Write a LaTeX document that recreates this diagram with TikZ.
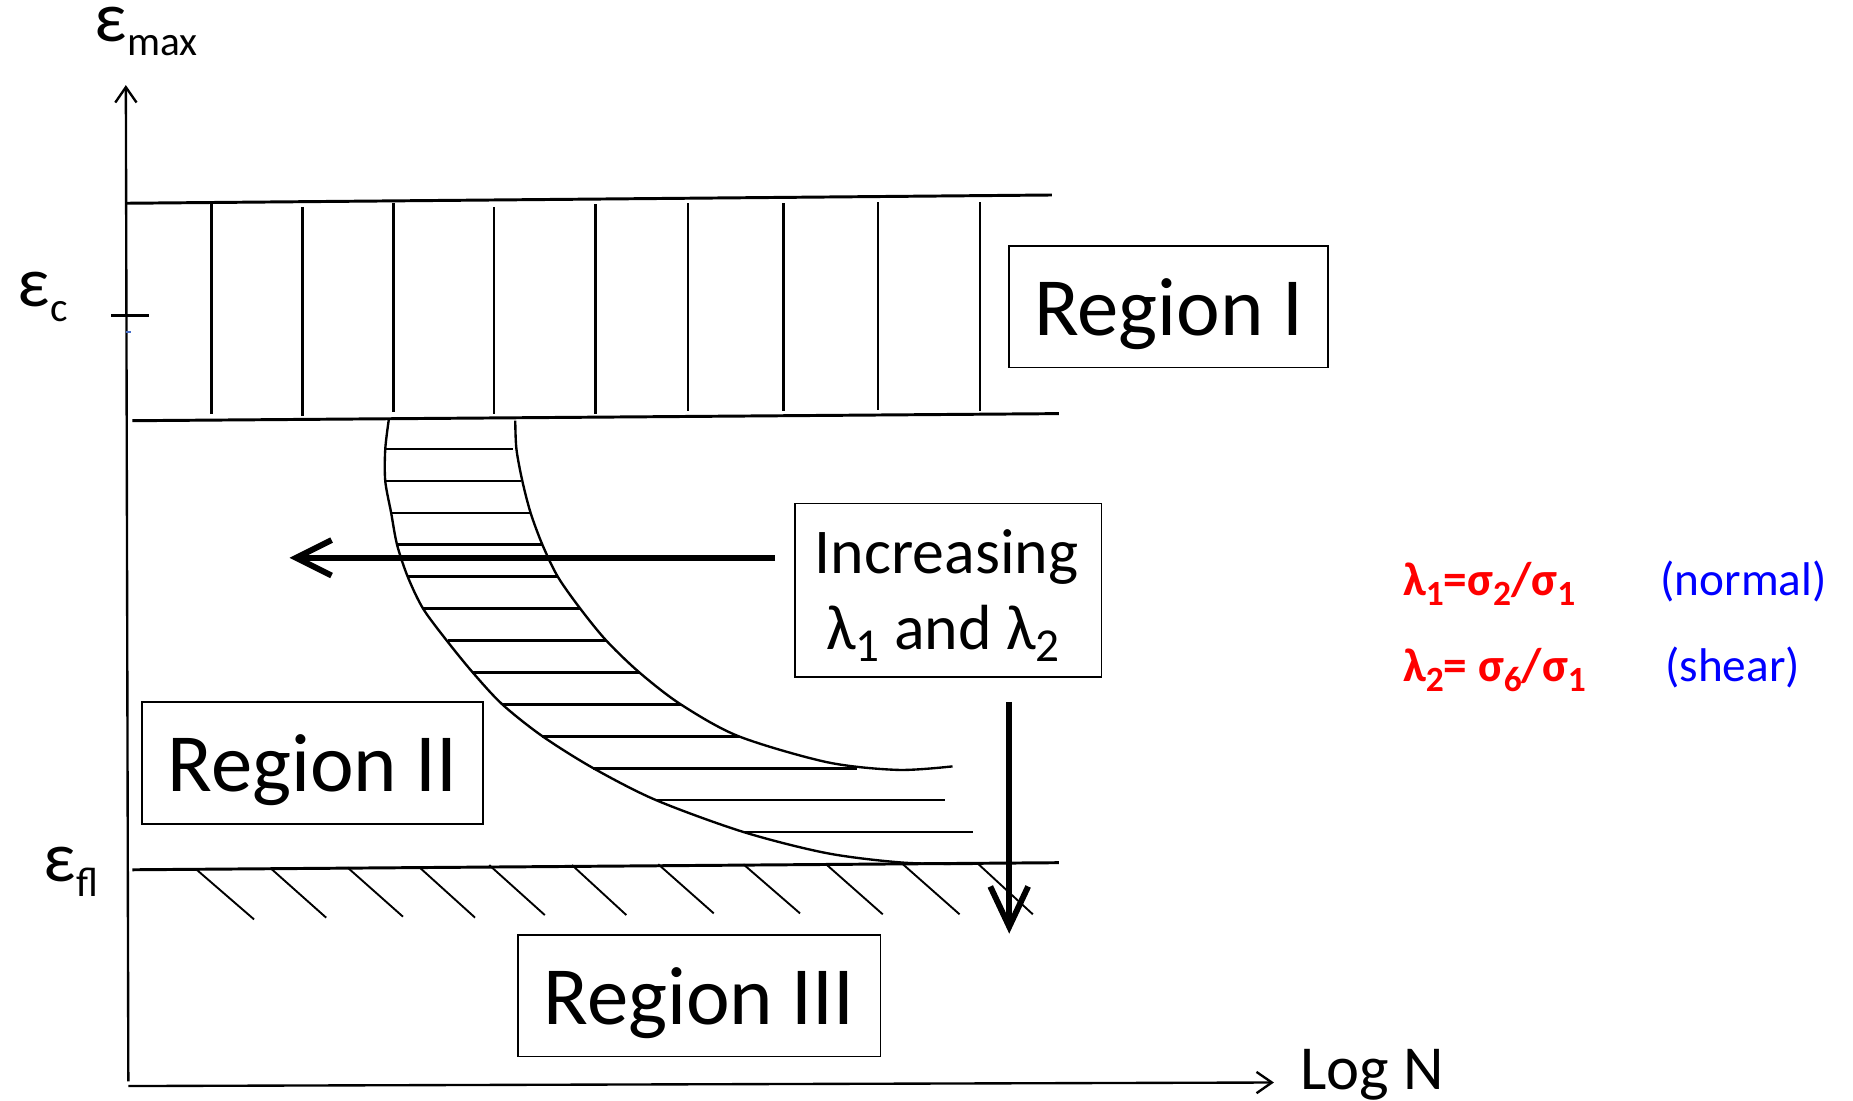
\documentclass[tikz,border=0pt]{standalone}
\usepackage{fontspec}
\setmainfont{Carlito}
\usetikzlibrary{arrows.meta}
\definecolor{lamred}{RGB}{255,0,0}
\definecolor{lamblue}{RGB}{0,0,255}
\definecolor{tinyblue}{RGB}{70,110,200}
\newcommand\lowsub[3]{\raisebox{-#1pt}{\fontsize{#2}{#2}\selectfont #3}}
\begin{document}
\begin{tikzpicture}[x=1pt,y=-1pt,
  axis/.style={line width=2pt, -{Straight Barb[length=13pt,width=18pt]}},
  band/.style={line width=2.5pt},
  vhatch/.style={line width=2pt},
  curve/.style={line width=2pt},
  hhatch/.style={line width=2.3pt},
  dhatch/.style={line width=1.6pt},
  regbox/.style={draw, line width=1.5pt, inner sep=0pt, minimum width=#1,
    font=\fontsize{70}{84}\selectfont, text height=76pt, text depth=27pt},
  bigarrow/.style={line width=5pt, -{Straight Barb[length=30pt,width=30pt]}},
  lbl/.style={inner sep=0pt, anchor=base west},
]
\useasboundingbox (0,0) rectangle (1568,931);

% axes
\coordinate (ybot) at (108.6,915);
\coordinate (ytop) at (106.5,72);
\coordinate (xbeg) at (108.6,919);
\coordinate (xend) at (1078,916);
\draw[axis] (ybot) -- (ytop);
\draw[axis] (xbeg) -- (xend);
\coordinate (tickl) at (94,267);
\coordinate (tickr) at (126,267);
\draw[line width=2pt] (tickl) -- (tickr);
\draw[tinyblue, line width=1.5pt] (107,281) -- (111,281);

% axis labels
\node[lbl, font=\fontsize{60}{70}\selectfont] (emax) at (80,35) {ε\lowsub{12}{35}{max}};
\node[lbl, font=\fontsize{60}{70}\selectfont] (ec) at (15,259) {ε\lowsub{13}{35}{c}};
\node[lbl, font=\fontsize{60}{70}\selectfont] (efl) at (37,746) {ε\lowsub{13}{35}{fl}};
\node[lbl, font=\fontsize{53}{64}\selectfont] (logn) at (1100,922) {Log N};

% Region I band
\draw[band] (107,172) -- (890,165);
\draw[band] (112,356) -- (896,350);
\foreach \x/\a/\b in {179/173/350, 256/175/352, 333/172/349, 418/175/350, 504/173/350, 582/172/348, 663/172/348, 743/171/347, 829/171/348}
  \draw[vhatch] (\x,\a) -- (\x,\b);

% Region II curved hatched band
\draw[curve] plot[smooth] coordinates {(329,355) (326,380) (326,407) (331,434) (336,461) (345,488) (358,515) (378,542) (400,569) (425,596) (459,623) (502,650) (555,677) (629,704) (700,722) (765,730) (823,731)};
\draw[curve] plot[smooth] coordinates {(436,356) (437,380) (442,407) (449,434) (459,461) (472,488) (491,515) (513,542) (541,569) (576,596) (625,623) (700,645) (760,651.5) (806,648.5)};
\foreach \y/\a/\b in {380/326/434, 407/326/441, 434/331/449, 461/336/459, 488/345/472, 515/358/491, 542/379/513, 569/399/541, 596/425/576, 623/459/625, 650/502/725, 677/555/800, 704/629/823}
  \draw[hhatch] (\a,\y) -- (\b,\y);

% fatigue limit line and hatch
\draw[band] (112,736) -- (896,730);
\foreach \xa/\ya/\xb/\yb in {166/735.6/215/778, 230/735.6/276/776.5, 294/734/341/775.7, 355/734/402/776.5, 414/732/461/774.3, 484/732/530/774.3, 557/731.3/604/772.9, 629/731.3/677/772.9, 699/731.3/747/773.7, 764/731.3/812/773.7, 828/731.3/874/773.7}
  \draw[dhatch] (\xa,\ya) -- (\xb,\yb);

% region boxes
\node[regbox=270pt] (r1) at (989,259.5) {Region I};
\node[regbox=289pt] (r2) at (264.5,645.5) {Region II};
\node[regbox=307pt] (r3) at (591.5,842.5) {Region III};

% increasing box
\node[draw, line width=1.5pt, inner sep=0pt, minimum width=259pt, minimum height=147pt] (inc) at (802.5,499.5) {};
\node[inner sep=0pt, anchor=base, font=\fontsize{54}{64}\selectfont] (inct1) at (801,485) {Increasing};
\node[inner sep=0pt, anchor=base, font=\fontsize{54}{64}\selectfont] (inct2) at (798,550) {λ\lowsub{10}{40}{1} and λ\lowsub{10}{40}{2}};

% thick arrows
\coordinate (la0) at (656,472);
\coordinate (la1) at (245,472);
\draw[bigarrow] (la0) -- (la1);
\coordinate (da0) at (854,594);
\coordinate (da1) at (854,790);
\draw[line width=5pt, -{Straight Barb[length=34pt,width=32pt]}] (da0) -- (da1);

% definitions
\node[lbl, font=\bfseries\fontsize{40}{48}\selectfont, text=lamred] (lam1) at (1187,504) {λ\lowsub{8}{30}{1}=σ\lowsub{8}{30}{2}/σ\lowsub{8}{30}{1}};
\node[lbl, font=\bfseries\fontsize{40}{48}\selectfont, text=lamred] (lam2) at (1187,577) {λ\lowsub{8}{30}{2}= σ\lowsub{8}{30}{6}/σ\lowsub{8}{30}{1}};
\node[lbl, font=\fontsize{40}{48}\selectfont, text=lamblue] (nrm) at (1405,503.5) {(normal)};
\node[lbl, font=\fontsize{40}{48}\selectfont, text=lamblue] (shr) at (1409,577) {(shear)};
\end{tikzpicture}
\end{document}
